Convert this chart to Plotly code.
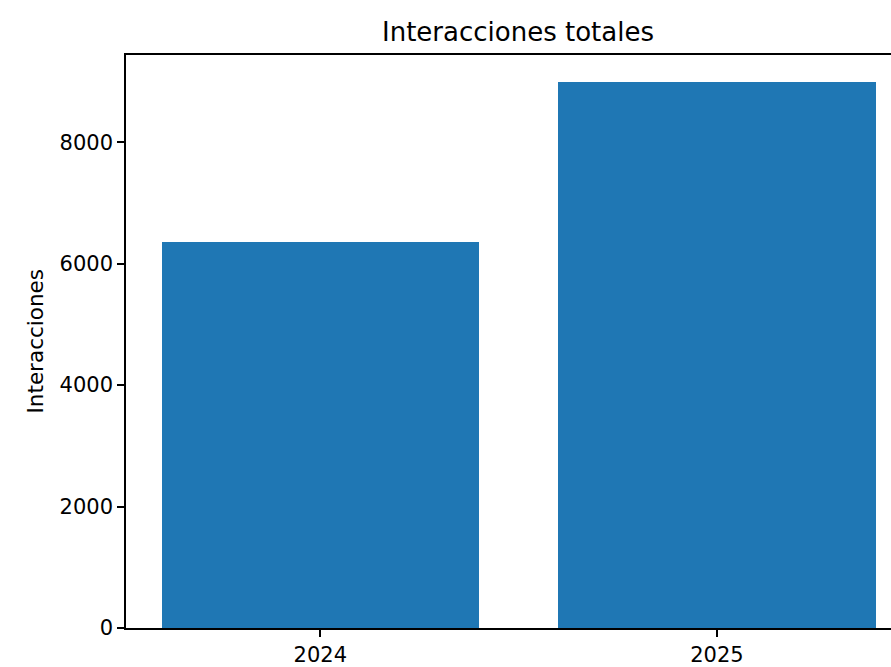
import plotly.graph_objects as go

years = ["2024", "2025"]
interacciones = [6350, 8987]
y_ticks = [0, 2000, 4000, 6000, 8000]

x_pos = list(range(len(years)))

fig = go.Figure()
fig.add_trace(go.Bar(x=x_pos, y=interacciones, width=0.8,
                     marker=dict(color="#1f77b4", line=dict(width=0))))

W, H = 891, 667
ml, mr, mt, mb = 126, 0, 55, 33
fig.update_layout(
    width=W, height=H,
    margin=dict(l=ml, r=mr, t=mt, b=mb, pad=0),
    plot_bgcolor="white", paper_bgcolor="white",
    font=dict(family="DejaVu Sans", color="black"),
    showlegend=False,
    bargap=0,
    title=dict(text="Interacciones totales", font=dict(size=26, color="black"),
               x=(518 - ml) / (W - ml - mr), xref="paper", xanchor="center",
               y=1 - 32 / H, yref="container", yanchor="middle"),
    xaxis=dict(range=[-0.49, 1.439], tickvals=x_pos, ticktext=years,
               showline=True, linecolor="black", linewidth=1.5, mirror=True,
               ticks="outside", ticklen=7, tickwidth=1.5, tickcolor="black",
               showgrid=False, zeroline=False, tickfont=dict(size=21)),
    yaxis=dict(range=[0, 8987 * 1.05], tickvals=y_ticks,
               showline=True, linecolor="black", linewidth=1.5,
               ticks="outside", ticklen=7, tickwidth=1.5, tickcolor="black",
               showgrid=False, zeroline=False, tickfont=dict(size=21)),
    annotations=[dict(text="Interacciones", textangle=-90, xref="paper", yref="paper",
                      x=(35 - ml) / (W - ml - mr), y=0.5, xanchor="center", yanchor="middle",
                      showarrow=False, font=dict(size=21.5, color="black"))],
)

fig.write_html("out.html", config={"displayModeBar": False},
               post_script="document.body.style.margin='0';document.body.style.overflow='hidden';")
